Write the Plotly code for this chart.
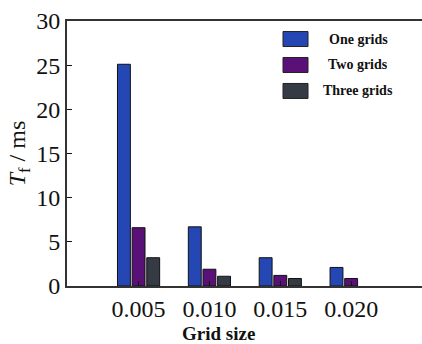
import plotly.graph_objects as go

categories = ["0.005", "0.010", "0.015", "0.020"]
series_names = ["One grids", "Two grids", "Three grids"]
one_grids = [25.1, 6.7, 3.2, 2.1]
two_grids = [6.6, 1.9, 1.2, 0.85]
three_grids = [3.2, 1.1, 0.85, None]
colors = ["#2447b3", "#5a1177", "#353b45"]

values = [one_grids, two_grids, three_grids]
serif = "Liberation Serif"

fig = go.Figure()
for name, vals, c in zip(series_names, values, colors):
    fig.add_trace(go.Bar(
        x=categories, y=vals, name=name,
        marker=dict(color=c, line=dict(color="#111111", width=1)),
        showlegend=False,
    ))

# custom legend
leg_y = [0.932, 0.834, 0.736]
for name, c, yy in zip(series_names, colors, leg_y):
    fig.add_shape(type="rect", xref="paper", yref="paper",
                  x0=(283 - 67) / 355, x1=(308 - 67) / 355,
                  y0=yy - 7.5 / 265, y1=yy + 7.5 / 265,
                  fillcolor=c, line=dict(color="#222222", width=1))
    fig.add_annotation(xref="paper", yref="paper", x=(358 - 67) / 355, y=yy,
                       text=f"<b>{name}</b>", showarrow=False,
                       font=dict(family=serif, size=14, color="#111111"),
                       xanchor="center", yanchor="middle")

# x axis title (offset left of plot centre, as in reference)
fig.add_annotation(xref="paper", yref="paper", x=(218 - 67) / 355, y=-(333 - 286) / 265,
                   text="<b>Grid size</b>", showarrow=False,
                   font=dict(family=serif, size=19, color="#111111"),
                   xanchor="center", yanchor="middle")

fig.update_layout(
    width=422, height=344,
    margin=dict(l=67, r=0, t=21, b=58),
    paper_bgcolor="white", plot_bgcolor="white",
    barmode="group", bargap=0.38, bargroupgap=0.12,
    font=dict(family=serif, color="#111111"),
    xaxis=dict(
        type="category", range=[-1.01, 4.0],
        showline=True, linecolor="#333333", linewidth=2, mirror=True,
        ticks="inside", ticklen=5, tickcolor="#111111",
        tickfont=dict(family=serif, size=24, color="#111111"),
        showgrid=False, zeroline=False,
    ),
    yaxis=dict(
        range=[0, 30], tickvals=[0, 5, 10, 15, 20, 25, 30],
        showline=True, linecolor="#333333", linewidth=2, mirror=False,
        ticks="inside", ticklen=5, tickcolor="#111111",
        tickfont=dict(family=serif, size=24, color="#111111"),
        showgrid=False, zeroline=False,
        title=dict(text="<i>T</i><sub>f</sub> / ms", font=dict(family=serif, size=24), standoff=4),
    ),
)

fig.write_html("out.html")
